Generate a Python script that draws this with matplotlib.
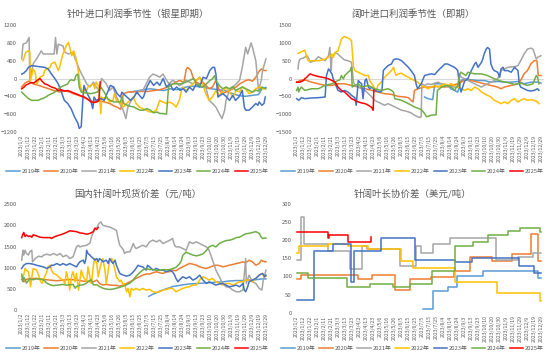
import matplotlib
matplotlib.use("Agg")
import matplotlib.pyplot as plt
import numpy as np

plt.rcParams['font.family'] = ['Noto Sans CJK SC', 'DejaVu Sans']

years = ["2019年", "2020年", "2021年", "2022年", "2023年", "2024年", "2025年"]
colors = ["#5B9BD5", "#ED7D31", "#A5A5A5", "#FFC000", "#4472C4", "#70AD47", "#FF0000"]

date_labels = ["2023/1/2", "2023/1/12", "2023/1/22", "2023/2/1", "2023/2/11", "2023/2/21",
               "2023/3/3", "2023/3/13", "2023/3/23", "2023/4/2", "2023/4/13", "2023/4/23",
               "2023/5/6", "2023/5/16", "2023/5/26", "2023/6/5", "2023/6/15", "2023/6/25",
               "2023/7/5", "2023/7/15", "2023/7/25", "2023/8/4", "2023/8/14", "2023/8/24",
               "2023/9/3", "2023/9/13", "2023/9/23", "2023/10/10", "2023/10/20", "2023/10/30",
               "2023/11/9", "2023/11/19", "2023/11/29", "2023/12/9", "2023/12/19", "2023/12/29"]

titles = ["针叶进口利润季节性（银星即期）", "阔叶进口利润季节性（即期）",
          "国内针阔叶现货价差（元/吨）", "针阔叶长协价差（美元/吨）"]

# ---- 针叶进口利润 (银星即期): (day, value) pairs ----
tl_2019 = [(160,-300),(170,-280),(180,-250),(190,-230),(200,-250),(210,-270),(220,-230),(230,-250),
           (240,-200),(250,-170),(260,-180),(270,-200),(280,-230),(290,-250),(300,-270),(310,-330),
           (320,-380),(330,-400),(340,-380),(350,-360),(355,-230),(361,-200)]
tl_2020 = [(0,-190),(5,-100),(10,-60),(17,-120),(24,-150),(34,-200),(44,-250),(49,-280),(56,-300),
           (64,-280),(71,-300),(76,-340),(86,-390),(91,-420),(96,-450),(101,-490),(106,-520),(111,-500),
           (116,-510),(121,-520),(130,-560),(137,-620),(142,-650),(146,-690),(148,-600),(150,-340),
           (158,-300),(167,-300),(176,-290),(186,-290),(196,-270),(204,-250),(209,-230),(218,-175),
           (223,-120),(228,-80),(233,-45),(240,-80),(243,200),(245,250),(248,215),(250,180),(253,30),
           (258,-80),(263,-120),(268,-80),(272,-155),(277,-230),(282,-190),(287,-40),(292,-265),
           (297,-340),(302,-300),(307,-270),(312,-230),(317,-190),(322,-120),(327,-80),(332,-40),
           (336,-30),(341,-60),(346,30),(350,140),(354,215),(358,180),(361,180)]
tl_2021 = [(0,440),(2,770),(7,800),(11,920),(12,-40),(17,330),(22,440),(29,620),(32,550),(40,550),
           (48,550),(50,920),(52,550),(54,770),(61,730),(64,590),(69,550),(76,590),(79,440),(86,180),
           (91,30),(96,-120),(101,-190),(106,-80),(110,-190),(115,-270),(118,0),(123,-80),(125,-120),
           (130,-270),(135,-190),(140,-410),(145,-560),(150,-710),(154,-900),(157,-640),(162,-490),
           (169,-340),(174,-270),(179,-270),(184,-120),(189,30),(194,100),(199,70),(204,30),(209,100),
           (214,-40),(218,-120),(223,-40),(228,-80),(233,-160),(238,-120),(243,-40),(248,-80),
           (253,-120),(258,-40),(263,30),(268,-120),(272,-190),(277,-490),(282,-560),(287,-640),
           (292,-790),(296,-900),(300,-710),(302,-490),(307,-270),(312,-190),(317,-120),(322,-40),
           (326,250),(331,700),(334,550),(339,800),(341,700),(346,400),(350,-270),(354,-40),(356,180),
           (361,440)]
tl_2022 = [(2,400),(3,440),(6,590),(10,620),(12,590),(13,-40),(17,210),(20,140),(22,-120),(24,-80),
           (27,30),(32,70),(34,180),(37,210),(42,250),(44,330),(49,370),(54,180),(56,250),(59,440),
           (61,550),(64,660),(66,740),(69,810),(71,700),(74,510),(77,620),(80,470),(82,330),(85,30),
           (86,-120),(88,-230),(91,-340),(93,-230),(96,-270),(98,-190),(101,-160),(106,-120),(108,-230),
           (110,-80),(113,-160),(115,-340),(117,-790),(118,-415),(121,-450),(125,-415),(130,-530),
           (135,-490),(137,-340),(140,-490),(145,-530),(150,-640),(155,-560),(160,-490),(165,-415),
           (169,-560),(174,-640),(179,-680),(184,-710),(189,-750),(194,-750),(199,-710),(204,-490),
           (209,-530),(214,-560),(218,-530),(223,-560),(228,-640),(233,-490),(236,-270),(238,-190),
           (243,-270),(248,-190),(253,-120),(258,-40),(263,30),(268,-150),(272,-340),(277,-490),
           (282,-415),(287,-270),(292,-380),(297,-300),(302,-190),(307,-300),(312,-415),(317,-270),
           (322,-300),(326,-190),(331,-230),(336,-340),(341,-300),(346,-230),(351,-190),(356,-230),
           (361,-230)]
tl_2023 = [(0,100),(3,120),(7,180),(10,250),(15,290),(24,270),(34,250),(39,215),(44,100),(49,0),
           (54,-120),(58,-270),(63,-490),(68,-560),(73,-675),(78,-860),(83,-1000),(85,-1120),(88,-1080),
           (90,-560),(92,-155),(95,-270),(97,-340),(102,-490),(105,-675),(107,-415),(110,-490),
           (117,-450),(122,-490),(127,-305),(131,-155),(136,-190),(141,-340),(146,-415),(148,-305),
           (153,-380),(161,-490),(166,-415),(170,-305),(178,-450),(180,-415),(185,-190),(190,-45),
           (195,-155),(200,-80),(204,-155),(209,0),(214,-190),(219,-120),(224,-265),(229,-190),
           (234,-265),(239,-230),(243,-305),(248,-190),(253,-265),(258,-120),(263,-190),(268,30),
           (273,0),(278,180),(282,250),(285,250),(287,100),(290,-415),(297,-340),(302,-400),(307,-490),
           (312,-380),(316,-490),(321,-415),(326,-265),(329,-640),(331,-710),(336,-710),(341,-640),
           (346,-560),(349,-600),(351,-525),(355,-600),(358,-560),(360,-415)]
tl_2024 = [(0,-305),(5,-380),(10,-450),(15,-490),(24,-490),(34,-430),(39,-380),(49,-305),(54,-230),
           (58,-190),(63,-155),(68,-120),(71,-45),(73,-30),(78,-45),(80,65),(83,100),(85,-190),
           (88,-305),(102,-340),(112,-305),(117,-190),(122,-305),(127,-450),(131,-490),(136,-525),
           (146,-525),(148,-415),(151,-565),(156,-600),(161,-625),(166,-640),(170,-675),(175,-710),
           (180,-710),(185,-675),(190,-710),(195,-770),(200,-750),(204,-785),(209,-785),(214,-800),
           (217,-190),(219,-155),(224,-120),(234,-120),(239,-100),(243,-80),(248,-45),(253,-5),
           (256,-45),(258,-120),(263,-155),(268,-190),(273,-120),(278,-45),(282,-5),(285,65),(287,-45),
           (292,-155),(297,-230),(302,-190),(307,-230),(312,-180),(316,-265),(321,-230),(326,-190),
           (331,-230),(336,-265),(341,-305),(346,-265),(351,-280),(355,-190),(360,-230)]
tl_2025 = [(0,-230),(3,-200),(6,-150),(10,-120),(14,-90),(18,-100),(22,-50),(25,-20),(27,0),(30,-60),
           (34,-120),(38,-140),(44,-190),(50,-220),(54,-270),(58,-250),(63,-280),(68,-270),(73,-300),
           (78,-330),(83,-360),(88,-390),(93,-420),(98,-470),(102,-520),(107,-540),(112,-520),
           (114,-490),(116,-80)]

# ---- 阔叶进口利润 (即期) ----
tr_2019 = [(189,-519),(194,-565),(201,-593),(204,-148),(214,-148),(223,-194),(228,-287),(233,-333),
           (238,-380),(243,-56),(248,-9),(258,-37),(268,-56),(277,-56),(287,-102),(297,-83),(307,-102),
           (317,-102),(327,-83),(336,-148),(346,-102),(356,-102),(361,-130)]
tr_2020 = [(0,-102),(5,-56),(10,-37),(15,-56),(22,-102),(32,-148),(42,-194),(52,-194),(61,-148),
           (71,-148),(81,-194),(91,-240),(101,-287),(111,-333),(120,-380),(130,-426),(140,-444),
           (150,-500),(160,-519),(165,-537),(169,-611),(172,-657),(174,-333),(179,-287),(189,-240),
           (199,-240),(209,-222),(219,-240),(228,-194),(238,-148),(243,-102),(248,-37),(258,-56),
           (268,-102),(277,-148),(287,-194),(297,-240),(302,-287),(307,-240),(317,-194),(327,-148),
           (331,-56),(336,130),(341,222),(346,407),(351,500),(355,500),(357,83),(361,83)]
tr_2021 = [(2,268),(3,454),(5,546),(10,574),(15,639),(17,593),(20,454),(27,500),(32,611),(42,500),
           (47,639),(49,870),(51,222),(52,593),(57,722),(61,685),(66,593),(71,519),(76,500),(81,454),
           (84,-102),(86,-194),(91,-240),(96,-287),(101,-333),(106,-426),(111,-519),(115,-611),
           (120,-657),(125,-704),(130,-750),(135,-704),(140,-750),(145,-796),(150,-843),(155,-889),
           (160,-907),(165,-935),(169,-963),(174,-1028),(179,-1074),(182,-1092),(184,-1074),(185,-148),
           (189,-194),(194,-148),(199,-167),(204,-130),(209,-102),(214,-148),(219,-194),(223,-240),
           (228,-222),(233,-240),(238,-240),(241,130),(243,37),(248,-9),(253,-56),(258,-102),
           (268,-194),(273,-240),(277,-194),(282,-148),(287,-102),(292,-56),(297,-9),(302,222),
           (307,268),(312,315),(322,333),(327,361),(331,500),(336,685),(341,824),(346,852),(349,824),
           (351,732),(354,546),(356,593),(361,639)]
tr_2022 = [(2,704),(5,732),(10,778),(12,796),(15,593),(17,500),(22,500),(32,500),(37,519),(42,546),
           (47,593),(52,685),(54,593),(57,732),(61,778),(64,963),(66,1102),(69,1167),(71,1176),
           (74,1148),(76,1130),(79,1102),(81,1055),(84,315),(86,222),(91,176),(96,130),(101,83),
           (106,83),(108,-56),(111,-148),(113,-194),(115,-287),(118,-333),(120,-194),(125,-102),
           (130,37),(135,130),(140,222),(143,315),(145,176),(147,83),(150,130),(155,148),(160,83),
           (165,37),(169,-9),(174,-56),(179,-102),(184,-194),(189,-240),(194,-287),(199,-240),
           (204,-194),(209,-240),(214,-194),(219,-148),(223,-194),(228,-148),(233,-194),(238,-240),
           (243,-287),(248,-333),(253,-287),(258,-333),(263,-240),(268,-287),(273,-380),(277,-426),
           (282,-472),(287,-519),(292,-611),(297,-657),(302,-704),(307,-657),(312,-704),(317,-611),
           (322,-565),(327,-657),(331,-611),(336,-565),(341,-611),(346,-593),(351,-611),(356,-657),
           (358,-704)]
tr_2023 = [(0,-565),(3,-611),(7,-537),(12,-565),(22,-546),(32,-537),(42,-519),(44,83),(47,268),
           (49,222),(52,130),(54,-9),(57,-148),(59,-240),(61,-333),(66,-380),(71,-333),(76,-380),
           (81,-472),(86,-537),(88,-750),(91,-56),(93,-102),(96,-148),(98,-565),(101,-56),(103,-9),
           (106,-240),(108,-287),(111,-240),(113,-287),(115,-333),(123,-380),(126,-350),(128,222),
           (130,268),(135,361),(140,407),(143,519),(145,546),(150,546),(155,500),(160,407),(165,315),
           (169,222),(174,83),(177,-194),(179,-287),(182,-194),(184,-148),(189,83),(194,111),(199,130),
           (204,111),(209,222),(214,315),(219,407),(223,407),(228,361),(233,315),(236,268),(238,222),
           (241,-240),(243,-380),(248,-80),(253,0),(258,222),(263,407),(265,454),(268,315),(273,454),
           (275,546),(277,685),(280,824),(282,870),(285,824),(287,407),(290,268),(292,222),(297,176),
           (300,37),(302,268),(305,315),(307,222),(312,222),(317,176),(322,315),(327,222),(329,-148),
           (331,-240),(336,-287),(341,-333),(346,-352),(351,-333),(356,-287),(358,-333)]
tr_2024 = [(0,-333),(2,-240),(3,-380),(5,-287),(7,-240),(12,-333),(22,-287),(32,-287),(42,-194),
           (52,-148),(61,-56),(64,-37),(66,83),(69,-9),(71,83),(76,176),(79,222),(81,315),(82,-240),
           (86,-194),(91,-148),(96,-240),(106,-194),(115,-287),(125,-333),(135,-287),(140,-333),
           (143,-380),(145,-565),(155,-611),(165,-704),(174,-796),(184,-870),(189,-981),(192,-1074),
           (199,-1028),(206,-1018),(208,-333),(214,-240),(223,-194),(231,-280),(233,-333),(238,-194),
           (241,130),(243,176),(250,83),(253,176),(263,130),(273,130),(282,83),(292,-9),(302,-74),
           (312,-111),(322,-167),(331,-130),(341,-194),(349,-148),(351,-56),(354,83),(356,37),(358,-148)]
tr_2025 = [(0,-102),(5,-102),(10,-56),(12,-9),(15,37),(17,83),(20,130),(22,111),(27,83),(32,56),
           (37,37),(42,19),(47,-9),(52,-56),(57,-102),(61,-240),(66,-333),(71,-380),(76,-472),(81,-565),
           (86,-611),(91,-657),(96,-685),(101,-704),(106,-750),(111,-815),(113,-889),(114,-330)]

# ---- 国内针阔叶现货价差 (元/吨) ----
bl_2019 = [(188,330),(194,380),(199,410),(204,450),(209,480),(214,510),(219,530),(223,560),(228,570),
           (238,600),(248,620),(258,630),(268,640),(277,650),(287,660),(297,670),(307,690),(317,700),
           (327,700),(336,710),(346,720),(356,740),(361,740)]
bl_2020 = [(0,726),(3,672),(7,726),(12,750),(22,750),(32,726),(42,711),(52,695),(61,711),(71,726),
           (81,711),(91,687),(101,672),(106,672),(111,711),(113,672),(115,632),(120,594),(125,610),
           (130,594),(140,586),(145,570),(150,594),(155,632),(160,672),(165,711),(169,750),(174,789),
           (179,828),(184,853),(189,853),(194,883),(199,906),(204,883),(209,867),(214,906),(219,906),
           (223,945),(228,930),(233,984),(238,1023),(243,1062),(248,1101),(253,1085),(258,1062),
           (263,1023),(268,1000),(273,984),(277,1008),(282,1039),(287,1062),(292,1054),(297,1023),
           (302,1039),(307,1062),(312,1078),(317,1101),(322,1117),(327,1140),(331,1117),(336,1179),
           (341,1140),(346,1062),(351,1101),(354,1179),(356,1156),(361,1140)]
bl_2021 = [(0,1180),(2,1414),(3,1300),(5,1414),(7,1335),(10,1300),(12,1375),(15,1414),(16,1140),
           (20,1218),(25,1273),(30,1258),(32,1296),(37,1320),(42,1296),(47,1335),(52,1296),(57,1335),
           (61,1258),(66,1296),(71,1218),(76,1258),(81,1492),(84,1530),(86,1492),(91,1515),(96,1530),
           (101,1585),(103,1725),(106,1843),(108,1921),(112,1960),(114,2040),(117,2078),(120,2000),
           (125,1976),(130,1960),(135,1921),(140,1880),(143,1648),(145,1530),(150,1430),(152,1335),
           (155,1375),(160,1375),(165,1570),(167,1492),(169,1453),(174,1492),(179,1530),(184,1492),
           (189,1610),(194,1650),(199,1610),(204,1650),(209,1570),(214,1610),(219,1650),(223,1687),
           (226,1530),(228,1492),(233,1492),(238,1453),(243,1413),(248,1610),(253,1570),(258,1610),
           (263,1570),(268,1530),(273,1492),(277,1413),(282,1180),(287,945),(292,788),(297,632),
           (302,554),(307,538),(312,476),(317,437),(322,437),(327,476),(331,1218),(332,632),(336,827),
           (341,671),(346,632),(351,515),(355,476),(357,710),(361,945)]
bl_2022 = [(0,789),(3,828),(5,984),(7,945),(10,906),(12,711),(13,555),(15,789),(17,984),(22,945),
           (25,828),(27,711),(30,632),(32,711),(37,906),(39,1023),(42,1062),(44,945),(47,867),(52,828),
           (57,750),(61,711),(64,632),(66,906),(69,711),(71,476),(74,828),(76,906),(79,672),(81,867),
           (84,476),(86,711),(88,945),(91,789),(96,672),(98,1023),(101,750),(103,632),(106,1062),
           (108,1218),(111,1101),(113,789),(115,945),(118,1140),(120,1218),(123,945),(125,632),
           (128,945),(130,1179),(133,1218),(135,1140),(138,945),(140,789),(145,672),(147,711),
           (150,594),(152,632),(155,437),(157,515),(160,320),(162,515),(165,476),(169,515),(174,476),
           (179,515),(184,476),(189,492),(194,437),(199,422),(204,437),(209,476),(214,492),(219,515),
           (223,515),(228,437),(233,476),(238,515),(243,539),(248,555),(253,594),(258,594),(263,711),
           (268,789),(273,750),(277,711),(282,750),(287,672),(292,632),(297,594),(302,632),(307,632),
           (312,594),(317,632),(322,672),(327,672),(331,711),(336,711),(341,672),(346,750),(351,828),
           (356,867),(358,789),(361,800)]
bl_2023 = [(0,985),(3,1060),(7,1100),(12,1100),(17,1085),(22,1060),(27,1040),(32,1022),(37,985),
           (42,1022),(44,1060),(47,1060),(52,1100),(57,1060),(61,1100),(66,1060),(71,1100),(76,1060),
           (81,1022),(84,1100),(86,1140),(91,1180),(93,1100),(95,1218),(96,1414),(98,1335),(101,1296),
           (103,1258),(106,1218),(108,1180),(111,1218),(113,1140),(115,1218),(118,1180),(120,1140),
           (125,1180),(128,1100),(130,1218),(133,1140),(135,1100),(138,1180),(140,1060),(143,945),
           (145,867),(150,828),(155,804),(160,828),(165,906),(169,985),(172,1060),(174,1040),
           (179,1022),(184,945),(186,1060),(189,1022),(194,945),(199,985),(204,945),(209,945),
           (214,906),(219,945),(223,906),(226,828),(228,750),(231,671),(233,710),(238,788),(243,750),
           (248,788),(253,710),(258,750),(263,828),(268,710),(273,632),(277,671),(282,632),(287,593),
           (292,617),(297,632),(302,593),(307,554),(312,570),(317,593),(322,554),(327,632),(329,476),
           (331,437),(334,554),(336,671),(341,710),(346,750),(351,828),(356,867),(359,788),(361,828)]
bl_2024 = [(0,850),(2,680),(3,780),(5,720),(7,640),(10,700),(12,740),(17,720),(22,740),(27,730),
           (32,720),(37,640),(42,600),(47,580),(52,590),(57,600),(61,610),(66,590),(71,600),(76,610),
           (79,520),(81,560),(86,590),(91,600),(96,640),(98,680),(101,700),(103,720),(106,600),
           (111,600),(115,560),(120,520),(125,500),(130,490),(135,500),(140,520),(145,540),(150,570),
           (155,600),(160,640),(165,720),(169,800),(174,880),(179,950),(184,980),(189,960),(194,960),
           (199,940),(204,940),(209,960),(214,950),(219,960),(223,980),(228,1010),(233,1090),
           (236,1170),(238,1290),(243,1370),(248,1330),(253,1300),(258,1280),(263,1300),(268,1330),
           (273,1410),(277,1490),(282,1530),(287,1490),(292,1570),(297,1610),(302,1640),(307,1650),
           (312,1670),(317,1710),(322,1720),(327,1765),(331,1800),(336,1810),(341,1830),(346,1850),
           (351,1810),(354,1720),(356,1690),(361,1700)]
bl_2025 = [(0,1710),(2,1800),(3,1830),(5,1735),(7,1770),(10,1735),(12,1750),(15,1720),(17,1775),
           (22,1750),(27,1720),(32,1710),(37,1710),(42,1710),(44,1690),(47,1720),(52,1750),(57,1775),
           (61,1795),(66,1830),(71,1870),(76,1860),(81,1850),(86,1820),(91,1810),(96,1790),(101,1810),
           (106,1850),(108,1930),(111,1900),(113,1950)]

# ---- 针阔叶长协价差 (美元/吨): step changes (day, value) ----
br_2019 = [(187,10),(201,60),(224,70),(237,100),(276,115),(357,95),(361,95)]
br_2020 = [(0,94),(6,104),(91,93),(111,104),(146,64),(168,94),(199,98),(232,114),(256,154),
           (288,144),(318,163),(347,216),(357,143),(361,143)]
br_2021 = [(0,145),(6,265),(11,190),(47,170),(79,120),(96,185),(104,175),(152,130),(177,185),
           (184,165),(202,190),(227,205),(295,145),(327,155),(349,165),(361,165)]
br_2022 = [(0,165),(4,183),(47,190),(76,183),(106,175),(154,143),(172,124),(234,84),(296,54),
           (359,33),(361,33)]
br_2023 = [(0,35),(26,170),(53,190),(81,85),(85,170),(124,205),(175,145),(234,140),(259,150),
           (329,130),(351,110),(361,110)]
br_2024 = [(0,110),(17,95),(74,70),(108,80),(143,70),(168,80),(200,115),(234,185),(261,195),
           (282,215),(313,225),(330,235),(359,223),(361,223)]
br_2025 = [(0,223),(47,205),(48,215),(76,195),(108,195),(110,209)]

tl = [tl_2019, tl_2020, tl_2021, tl_2022, tl_2023, tl_2024, tl_2025]
tr = [tr_2019, tr_2020, tr_2021, tr_2022, tr_2023, tr_2024, tr_2025]
bl = [bl_2019, bl_2020, bl_2021, bl_2022, bl_2023, bl_2024, bl_2025]
br = [br_2019, br_2020, br_2021, br_2022, br_2023, br_2024, br_2025]

fig = plt.figure(figsize=(5.5, 3.6), dpi=100)

txt = "#595959"
panels = [
    (tl, [0.0345, 0.6333, 0.454, 0.2972], (-1200, 1200), np.arange(-1200, 1201, 400), False),
    (tr, [0.5345, 0.6333, 0.454, 0.2972], (-1500, 1500), np.arange(-1500, 1501, 500), False),
    (bl, [0.0345, 0.1380, 0.454, 0.2953], (0, 2500), np.arange(0, 2501, 500), False),
    (br, [0.5345, 0.1314, 0.454, 0.3020], (0, 300), np.arange(0, 301, 50), True),
]
title_pos = [(0.25, 0.962), (0.75, 0.962), (0.25, 0.462), (0.75, 0.462)]
legend_pos = [(0.25, 0.525), (0.75, 0.525), (0.25, 0.031), (0.75, 0.031)]

tick_pos = np.linspace(0, 361, len(date_labels))

for i, (data, rect, ylim, yticks, steps) in enumerate(panels):
    ax = fig.add_axes(rect)
    ax.axhline(0, color="#D9D9D9", lw=0.8, zorder=0)
    for series, name, c in zip(data, years, colors):
        xs, ys = zip(*series)
        if steps:
            ax.plot(xs, ys, color=c, lw=1.1, label=name, drawstyle="steps-post")
        else:
            ax.plot(xs, ys, color=c, lw=1.1, label=name)
    ax.set_xlim(-4, 365)
    ax.set_ylim(*ylim)
    ax.set_yticks(yticks)
    ax.set_xticks(tick_pos)
    ax.set_xticklabels(date_labels)
    for s in ax.spines.values():
        s.set_visible(False)
    ax.tick_params(axis="y", length=0, pad=1.5, labelsize=4.3, colors=txt)
    ax.tick_params(axis="x", length=0, pad=2, labelsize=3.7, colors=txt, labelrotation=90)
    fig.text(title_pos[i][0], title_pos[i][1], titles[i], ha="center", va="center",
             fontsize=6.8, color=txt)
    ax.legend(loc="center", bbox_to_anchor=legend_pos[i], bbox_transform=fig.transFigure,
              ncol=7, frameon=False, fontsize=4.2, handlelength=2.3, handletextpad=0.3,
              columnspacing=0.7, labelcolor=txt)

fig.savefig("out.png", dpi=100, facecolor="white")
